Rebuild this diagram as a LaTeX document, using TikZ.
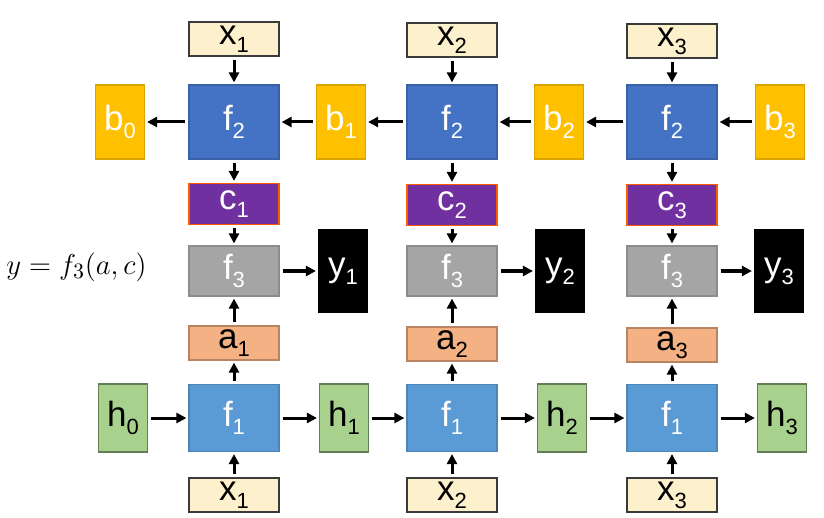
\documentclass[tikz,border=0pt]{standalone}
\usepackage{fontspec}
\setmainfont{Liberation Sans}
\usetikzlibrary{arrows.meta}

\definecolor{xcream}{HTML}{FDF0CC}
\definecolor{xedge}{HTML}{3A3A3A}
\definecolor{ftwo}{HTML}{4472C4}
\definecolor{fone}{HTML}{5B9BD5}
\definecolor{bfill}{HTML}{FFC000}
\definecolor{cfill}{HTML}{7030A0}
\definecolor{fthree}{HTML}{A5A5A5}
\definecolor{afill}{HTML}{F4B183}
\definecolor{hfill}{HTML}{A9D18E}

% 下标
\newcommand{\lsub}[1]{\raisebox{-4pt}{\fontsize{11}{13}\selectfont #1}}

\tikzset{
  box/.style={rectangle, inner sep=0pt, line width=0.6pt, font=\fontsize{17.5}{20}\selectfont},
  wide/.style={box, minimum width=45pt},
  narrow/.style={box, minimum width=24.5pt},
  xbox/.style={wide, minimum height=17pt, fill=xcream, draw=xedge, text=black},
  ftwobox/.style={wide, minimum height=37pt, fill=ftwo, draw=ftwo!85!black, text=white},
  bbox/.style={narrow, minimum height=37pt, fill=bfill, draw=bfill!85!black, text=white},
  cbox/.style={wide, minimum height=20.5pt, fill=cfill, draw=orange!70!red, text=white},
  fthreebox/.style={wide, minimum height=25pt, fill=fthree, draw=fthree!85!black, text=white},
  ybox/.style={narrow, minimum height=41pt, fill=black, draw=black, text=white},
  abox/.style={wide, minimum height=17pt, fill=afill, draw=afill!75!black, text=black},
  fonebox/.style={wide, minimum height=33.5pt, fill=fone, draw=fone!85!black, text=white},
  hbox/.style={narrow, minimum height=34pt, fill=hfill, draw=hfill!60!black, text=black},
  arr/.style={-{Triangle[length=5pt,width=5pt]}, line width=1.5pt, shorten <=1.5pt, shorten >=1pt},
}

\begin{document}
\begin{tikzpicture}[x=0.5pt, y=-0.5pt]
    \useasboundingbox (0,0) rectangle (824,518);

    % 上面一行 x
    \node[xbox] (xt1) at (234,39) {x\lsub{1}};
    \node[xbox] (xt2) at (452,40) {x\lsub{2}};
    \node[xbox] (xt3) at (672,41) {x\lsub{3}};

    % f2 与 b
    \node[bbox] (b0) at (120,122) {b\lsub{0}};
    \node[ftwobox] (f21) at (234,122) {f\lsub{2}};
    \node[bbox] (b1) at (341,122) {b\lsub{1}};
    \node[ftwobox] (f22) at (452,122) {f\lsub{2}};
    \node[bbox] (b2) at (559,122) {b\lsub{2}};
    \node[ftwobox] (f23) at (672,122) {f\lsub{2}};
    \node[bbox] (b3) at (780,122) {b\lsub{3}};

    % c
    \node[cbox] (c1) at (234,204) {c\lsub{1}};
    \node[cbox] (c2) at (452,205) {c\lsub{2}};
    \node[cbox] (c3) at (672,205) {c\lsub{3}};

    % f3 与 y
    \node[fthreebox] (f31) at (234,271) {f\lsub{3}};
    \node[ybox] (y1) at (343,271) {y\lsub{1}};
    \node[fthreebox] (f32) at (452,271) {f\lsub{3}};
    \node[ybox] (y2) at (560,271) {y\lsub{2}};
    \node[fthreebox] (f33) at (672,271) {f\lsub{3}};
    \node[ybox] (y3) at (779,271) {y\lsub{3}};

    % 公式
    \node[anchor=west, inner sep=0pt] (eq) at (6,267) {\fontsize{15}{18}\selectfont $y=f_3(a,c)$};

    % a
    \node[abox] (a1) at (234,343) {a\lsub{1}};
    \node[abox] (a2) at (452,344) {a\lsub{2}};
    \node[abox] (a3) at (672,345) {a\lsub{3}};

    % f1 与 h
    \node[hbox] (h0) at (123,418) {h\lsub{0}};
    \node[fonebox] (f11) at (234,418) {f\lsub{1}};
    \node[hbox] (h1) at (344,418) {h\lsub{1}};
    \node[fonebox] (f12) at (452,418) {f\lsub{1}};
    \node[hbox] (h2) at (562,418) {h\lsub{2}};
    \node[fonebox] (f13) at (672,418) {f\lsub{1}};
    \node[hbox] (h3) at (782,418) {h\lsub{3}};

    % 下面一行 x
    \node[xbox] (xb1) at (234,495) {x\lsub{1}};
    \node[xbox] (xb2) at (452,495) {x\lsub{2}};
    \node[xbox] (xb3) at (672,495) {x\lsub{3}};

    % 竖直箭头
    \draw[arr] (xt1) -- (f21);
    \draw[arr] (xt2) -- (f22);
    \draw[arr] (xt3) -- (f23);
    \draw[arr] (f21) -- (c1);
    \draw[arr] (f22) -- (c2);
    \draw[arr] (f23) -- (c3);
    \draw[arr] (c1) -- (f31);
    \draw[arr] (c2) -- (f32);
    \draw[arr] (c3) -- (f33);
    \draw[arr] (a1) -- (f31);
    \draw[arr] (a2) -- (f32);
    \draw[arr] (a3) -- (f33);
    \draw[arr] (f11) -- (a1);
    \draw[arr] (f12) -- (a2);
    \draw[arr] (f13) -- (a3);
    \draw[arr] (xb1) -- (f11);
    \draw[arr] (xb2) -- (f12);
    \draw[arr] (xb3) -- (f13);

    % 水平箭头
    \draw[arr] (f31) -- (y1);
    \draw[arr] (f32) -- (y2);
    \draw[arr] (f33) -- (y3);
    \draw[arr] (b3) -- (f23);
    \draw[arr] (f23) -- (b2);
    \draw[arr] (b2) -- (f22);
    \draw[arr] (f22) -- (b1);
    \draw[arr] (b1) -- (f21);
    \draw[arr] (f21) -- (b0);
    \draw[arr] (h0) -- (f11);
    \draw[arr] (f11) -- (h1);
    \draw[arr] (h1) -- (f12);
    \draw[arr] (f12) -- (h2);
    \draw[arr] (h2) -- (f13);
    \draw[arr] (f13) -- (h3);

\end{tikzpicture}
\end{document}
